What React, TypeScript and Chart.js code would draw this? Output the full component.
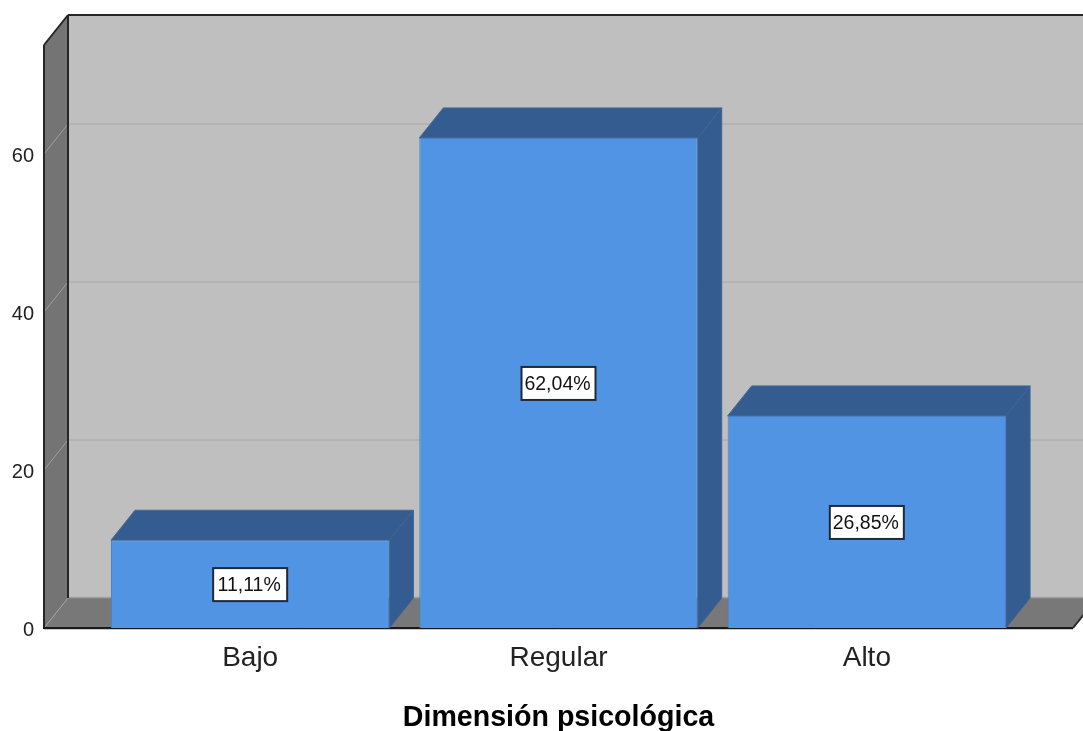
import React, { useEffect, useRef } from "react";
import { Chart, registerables } from "chart.js";

Chart.register(...registerables);

const categories = ["Bajo", "Regular", "Alto"];
const percentages = [11.11, 62.04, 26.85];
const percentLabels = ["11,11%", "62,04%", "26,85%"];
const yTicks = [0, 20, 40, 60];
const axisTitle = "Dimensión psicológica";

const DX = 24;
const DY = -30;
const FONT = '"Liberation Sans", Arial, sans-serif';

function poly(ctx: CanvasRenderingContext2D, pts: number[][], fill: string | null, stroke?: string, lw = 1) {
  ctx.beginPath();
  pts.forEach((p, i) => (i ? ctx.lineTo(p[0], p[1]) : ctx.moveTo(p[0], p[1])));
  ctx.closePath();
  if (fill) {
    ctx.fillStyle = fill;
    ctx.fill();
  }
  if (stroke) {
    ctx.strokeStyle = stroke;
    ctx.lineWidth = lw;
    ctx.stroke();
  }
}

function line(ctx: CanvasRenderingContext2D, x1: number, y1: number, x2: number, y2: number, c: string, lw: number) {
  ctx.beginPath();
  ctx.moveTo(x1, y1);
  ctx.lineTo(x2, y2);
  ctx.strokeStyle = c;
  ctx.lineWidth = lw;
  ctx.stroke();
}

const box3d = {
  id: "box3d",
  beforeDatasetsDraw(chart: any) {
    const { ctx, chartArea, scales } = chart;
    const y = scales.y;
    const top = chartArea.top;
    const bottom = chartArea.bottom;
    const left = chartArea.left - 52;
    const right = chartArea.right + 52;
    ctx.save();
    poly(ctx, [[left + DX, top + DY], [right + DX, top + DY], [right + DX, bottom + DY], [left + DX, bottom + DY]], "#bfbfbf");
    poly(ctx, [[left, top], [left + DX, top + DY], [left + DX, bottom + DY], [left, bottom]], "#747474");
    poly(ctx, [[left, bottom], [left + DX, bottom + DY], [right + DX, bottom + DY], [right, bottom]], "#787878");
    line(ctx, left + DX, bottom + DY - 0.5, right + DX, bottom + DY - 0.5, "#a0a0a0", 1.5);
    for (const t of yTicks) {
      const py = y.getPixelForValue(t);
      if (t > 0) line(ctx, left + DX, py + DY, right + DX, py + DY, "#a8a8a8", 1);
      line(ctx, left, py, left + DX, py + DY, "#a0a0a0", 1);
    }
    line(ctx, left + DX, top + DY, right + DX, top + DY, "#262626", 2);
    line(ctx, left + DX, top + DY, left + DX, bottom + DY, "#262626", 2);
    line(ctx, left, top, left + DX, top + DY, "#262626", 2);
    line(ctx, left, top, left, bottom, "#262626", 2);
    line(ctx, left - 1, bottom, right, bottom, "#1a1a1a", 2);
    line(ctx, right, bottom, right + DX, bottom + DY, "#262626", 2);
    line(ctx, left, bottom + 1.5, right, bottom + 1.5, "#c8c8c8", 1);

    const meta = chart.getDatasetMeta(0);
    meta.data.forEach((b: any) => {
      const l = b.x - b.width / 2;
      const r = b.x + b.width / 2;
      poly(ctx, [[l, b.y], [l + DX, b.y + DY], [r + DX, b.y + DY], [r, b.y]], "#345c90", "#4a6a92", 1);
      poly(ctx, [[r, b.y], [r + DX, b.y + DY], [r + DX, b.base + DY], [r, b.base]], "#345c90", "#3f6391", 1);
    });
    ctx.restore();
  },
  afterDatasetsDraw(chart: any) {
    const { ctx } = chart;
    const meta = chart.getDatasetMeta(0);
    ctx.save();
    ctx.font = `19.5px ${FONT}`;
    ctx.textAlign = "center";
    ctx.textBaseline = "middle";
    meta.data.forEach((b: any, i: number) => {
      const cy = (b.y + b.base) / 2;
      ctx.fillStyle = "#ffffff";
      ctx.fillRect(b.x - 37, cy - 16, 74, 33);
      ctx.strokeStyle = "#1f2a38";
      ctx.lineWidth = 2;
      ctx.strokeRect(b.x - 37, cy - 16, 74, 33);
      ctx.fillStyle = "#111111";
      ctx.fillText(percentLabels[i], b.x - 1, cy + 2);
    });
    ctx.restore();
  },
};

export default function App() {
  const ref = useRef<HTMLCanvasElement>(null);
  useEffect(() => {
    const chart = new Chart(ref.current!, {
      type: "bar",
      data: {
        labels: categories,
        datasets: [
          {
            data: percentages,
            backgroundColor: "#5294e4",
            borderColor: "#4a80c4",
            borderWidth: 1,
            barPercentage: 0.903,
            categoryPercentage: 1,
          },
        ],
      },
      plugins: [box3d],
      options: {
        responsive: false,
        animation: false,
        events: [],
        layout: { padding: { top: 45, right: 62, left: 0, bottom: 0 } },
        plugins: { legend: { display: false }, tooltip: { enabled: false }, title: { display: false } },
        scales: {
          x: {
            type: "category",
            grid: { display: false, drawTicks: false },
            border: { display: false },
            ticks: { color: "#222222", font: { family: FONT, size: 28 }, padding: 13, maxRotation: 0 },
            title: {
              display: true,
              text: axisTitle,
              color: "#000000",
              font: { family: FONT, size: 28.6, weight: "bold", lineHeight: 1 },
              padding: { top: 0, bottom: -1 },
            },
            afterFit(scale: any) {
              scale.height = 103;
            },
          },
          y: {
            min: 0,
            max: 73.8,
            afterBuildTicks(scale: any) {
              scale.ticks = yTicks.map((value) => ({ value }));
            },
            grid: { display: false, drawTicks: false },
            border: { display: false },
            ticks: {
              color: "#222222",
              font: { family: FONT, size: 20 },
              padding: 62,
              labelOffset: 2,
            },
            afterFit(scale: any) {
              scale.width = 96;
              scale.paddingTop = 0;
              scale.paddingBottom = 0;
            },
          },
        },
      },
    } as any);
    return () => chart.destroy();
  }, []);
  return (
    <div style={{ position: "absolute", left: 0, top: 0, width: 1083, height: 731, overflow: "hidden", background: "#fff" }}>
      <canvas ref={ref} width={1083} height={731} style={{ display: "block" }} />
    </div>
  );
}
